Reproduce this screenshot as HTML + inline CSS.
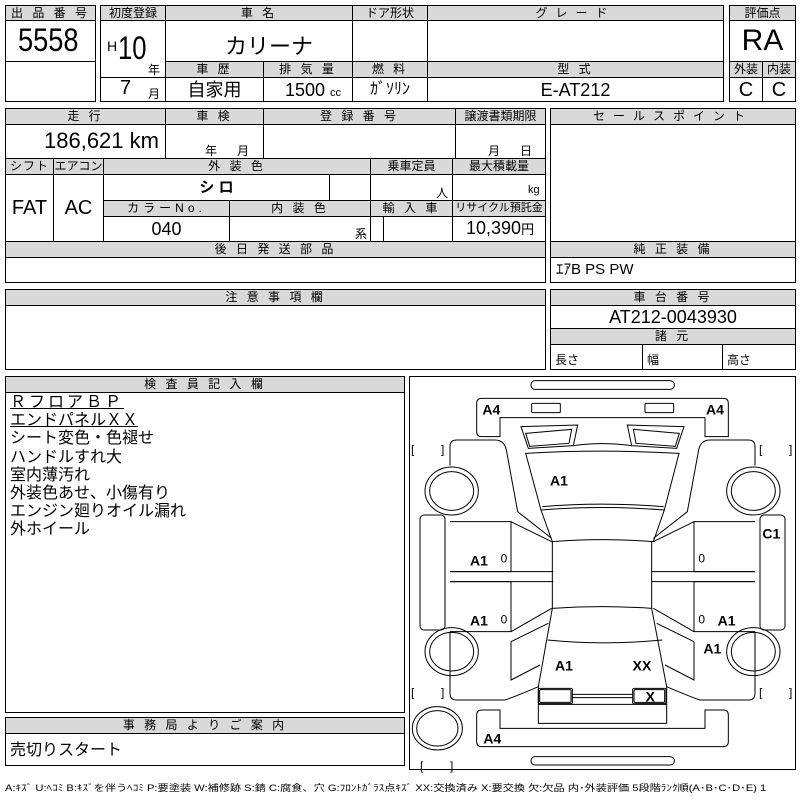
<!DOCTYPE html>
<html><head><meta charset="utf-8"><style>
body{margin:0;width:800px;height:800px;background:#fff;position:relative;overflow:hidden;font-family:"Liberation Sans","Noto Sans CJK JP",sans-serif;color:#000}
.c{position:absolute;border:1px solid #000;box-sizing:border-box;background:#fff;overflow:hidden}
.h{position:absolute;border:1px solid #000;box-sizing:border-box;background:#d9d9d9;font-size:12px;line-height:14px;text-align:center;letter-spacing:3px;white-space:nowrap;overflow:hidden}
.t{position:absolute;white-space:nowrap}
.big{font-family:"Liberation Sans Narrow","Liberation Sans","Noto Sans CJK JP",sans-serif}
.ins{position:absolute;left:10px;font-size:16px;line-height:18.3px;white-space:nowrap}
</style></head><body>
<!-- box1 -->
<div class="h" style="left:5px;top:5px;width:91px;height:16px">出 品 番 号</div>
<div class="c" style="left:5px;top:20px;width:91px;height:42px"></div>
<div class="c" style="left:5px;top:61px;width:91px;height:41px"></div>
<div class="t big" style="left:18px;top:22px;font-size:32px;transform:scaleX(0.85);transform-origin:left">5558</div>
<!-- box2 -->
<div class="h" style="left:100px;top:5px;width:66px;height:16px;letter-spacing:0">初度登録</div>
<div class="h" style="left:165px;top:5px;width:188px;height:16px">車 名</div>
<div class="h" style="left:352px;top:5px;width:76px;height:16px;letter-spacing:0">ドア形状</div>
<div class="h" style="left:427px;top:5px;width:297px;height:16px;letter-spacing:8px">グレード</div>
<div class="c" style="left:100px;top:20px;width:66px;height:58px"></div>
<div class="c" style="left:100px;top:77px;width:66px;height:25px"></div>
<div class="t" style="left:107px;top:38px;font-size:14px">H</div>
<div class="t big" style="left:118px;top:30px;font-size:32px;transform:scaleX(0.8);transform-origin:left">10</div>
<div class="t" style="left:148px;top:61px;font-size:12px">年</div>
<div class="t" style="left:120px;top:77px;font-size:20px">7</div>
<div class="t" style="left:148px;top:85px;font-size:12px">月</div>
<div class="c" style="left:165px;top:20px;width:188px;height:42px"></div>
<div class="t" style="left:225px;top:29px;font-size:22px">カリーナ</div>
<div class="c" style="left:352px;top:20px;width:76px;height:42px"></div>
<div class="c" style="left:427px;top:20px;width:297px;height:42px"></div>
<div class="h" style="left:165px;top:61px;width:99px;height:17px">車 歴</div>
<div class="h" style="left:263px;top:61px;width:90px;height:17px">排 気 量</div>
<div class="h" style="left:352px;top:61px;width:76px;height:17px">燃 料</div>
<div class="h" style="left:427px;top:61px;width:297px;height:17px">型 式</div>
<div class="c" style="left:165px;top:77px;width:99px;height:25px;font-size:18px;text-align:center;line-height:24px">自家用</div>
<div class="c" style="left:263px;top:77px;width:90px;height:25px;font-size:18px;line-height:24px;padding-left:21px">1500 <span style="font-size:11px">cc</span></div>
<div class="c" style="left:352px;top:77px;width:76px;height:25px;font-size:16px;text-align:center;line-height:24px">ｶﾞｿﾘﾝ</div>
<div class="c" style="left:427px;top:77px;width:297px;height:25px;font-size:18px;text-align:center;line-height:24px">E-AT212</div>
<!-- box3 -->
<div class="h" style="left:729px;top:5px;width:67px;height:16px;letter-spacing:0">評価点</div>
<div class="c" style="left:729px;top:20px;width:67px;height:42px;font-size:30px;text-align:center;line-height:40px">RA</div>
<div class="h" style="left:729px;top:61px;width:34px;height:17px;letter-spacing:0">外装</div>
<div class="h" style="left:762px;top:61px;width:34px;height:17px;letter-spacing:0">内装</div>
<div class="c" style="left:729px;top:77px;width:34px;height:25px;font-size:20px;text-align:center;line-height:24px">C</div>
<div class="c" style="left:762px;top:77px;width:34px;height:25px;font-size:20px;text-align:center;line-height:24px">C</div>
<!-- section2 -->
<div class="h" style="left:5px;top:108px;width:161px;height:17px">走 行</div>
<div class="h" style="left:165px;top:108px;width:99px;height:17px">車 検</div>
<div class="h" style="left:263px;top:108px;width:193px;height:17px">登 録 番 号</div>
<div class="h" style="left:455px;top:108px;width:91px;height:17px;letter-spacing:0">譲渡書類期限</div>
<div class="c" style="left:5px;top:124px;width:161px;height:35px"></div>
<div class="t" style="left:44px;top:128px;font-size:22px">186,621 km</div>
<div class="c" style="left:165px;top:124px;width:99px;height:35px"></div>
<div class="t" style="left:205px;top:142px;font-size:12px">年&nbsp;&nbsp;&nbsp;&nbsp;&nbsp;&nbsp;月</div>
<div class="c" style="left:263px;top:124px;width:193px;height:35px"></div>
<div class="c" style="left:455px;top:124px;width:91px;height:35px"></div>
<div class="t" style="left:488px;top:142px;font-size:12px">月&nbsp;&nbsp;&nbsp;&nbsp;&nbsp;&nbsp;日</div>
<div class="h" style="left:5px;top:158px;width:49px;height:17px;letter-spacing:1px">シフト</div>
<div class="h" style="left:53px;top:158px;width:51px;height:17px;letter-spacing:0">エアコン</div>
<div class="h" style="left:103px;top:158px;width:268px;height:17px">外 装 色</div>
<div class="h" style="left:370px;top:158px;width:83px;height:17px;letter-spacing:0">乗車定員</div>
<div class="h" style="left:452px;top:158px;width:94px;height:17px;letter-spacing:0">最大積載量</div>
<div class="c" style="left:5px;top:174px;width:49px;height:68px;font-size:20px;text-align:center;line-height:66px">FAT</div>
<div class="c" style="left:53px;top:174px;width:51px;height:68px;font-size:20px;text-align:center;line-height:66px">AC</div>
<div class="c" style="left:103px;top:174px;width:227px;height:27px;font-size:15px;text-align:center;line-height:25px;font-weight:bold">シ ロ</div>
<div class="c" style="left:329px;top:174px;width:42px;height:27px"></div>
<div class="c" style="left:370px;top:174px;width:83px;height:27px"></div>
<div class="t" style="left:436px;top:184px;font-size:12px">人</div>
<div class="c" style="left:452px;top:174px;width:94px;height:27px"></div>
<div class="t" style="left:528px;top:184px;font-size:11px">kg</div>
<div class="h" style="left:103px;top:200px;width:127px;height:17px;letter-spacing:4px">カラーNo.</div>
<div class="h" style="left:229px;top:200px;width:142px;height:17px">内 装 色</div>
<div class="h" style="left:370px;top:200px;width:83px;height:17px">輸 入 車</div>
<div class="h" style="left:452px;top:200px;width:94px;height:17px;letter-spacing:0;font-size:11px">リサイクル預託金</div>
<div class="c" style="left:103px;top:216px;width:127px;height:26px;font-size:18px;text-align:center;line-height:24px">040</div>
<div class="c" style="left:229px;top:216px;width:142px;height:26px"></div>
<div class="t" style="left:355px;top:225px;font-size:12px">系</div>
<div class="c" style="left:370px;top:216px;width:14px;height:26px"></div>
<div class="c" style="left:383px;top:216px;width:70px;height:26px"></div>
<div class="c" style="left:452px;top:216px;width:94px;height:26px"></div>
<div class="t" style="left:466px;top:218px;font-size:18px">10,390<span style="font-size:13px">円</span></div>
<div class="h" style="left:5px;top:241px;width:541px;height:17px">後 日 発 送 部 品</div>
<div class="c" style="left:5px;top:257px;width:541px;height:26px"></div>
<div class="h" style="left:550px;top:108px;width:246px;height:17px;letter-spacing:8px">セールスポイント</div>
<div class="c" style="left:550px;top:124px;width:246px;height:118px"></div>
<div class="h" style="left:550px;top:241px;width:246px;height:17px">純 正 装 備</div>
<div class="c" style="left:550px;top:257px;width:246px;height:26px;font-size:15px;line-height:24px;padding-left:5px">ｴｱB PS PW</div>
<!-- section3 -->
<div class="h" style="left:5px;top:289px;width:541px;height:17px">注 意 事 項 欄</div>
<div class="c" style="left:5px;top:305px;width:541px;height:65px"></div>
<div class="h" style="left:550px;top:289px;width:246px;height:17px">車 台 番 号</div>
<div class="c" style="left:550px;top:305px;width:246px;height:24px;font-size:18px;text-align:center;line-height:22px">AT212-0043930</div>
<div class="h" style="left:550px;top:328px;width:246px;height:17px">諸 元</div>
<div class="c" style="left:550px;top:344px;width:93px;height:26px;font-size:12px;line-height:30px;padding-left:4px">長さ</div>
<div class="c" style="left:642px;top:344px;width:81px;height:26px;font-size:12px;line-height:30px;padding-left:4px">幅</div>
<div class="c" style="left:722px;top:344px;width:74px;height:26px;font-size:12px;line-height:30px;padding-left:4px">高さ</div>
<!-- section4 -->
<div class="h" style="left:5px;top:376px;width:400px;height:17px">検 査 員 記 入 欄</div>
<div class="c" style="left:5px;top:392px;width:400px;height:321px"></div>
<div class="ins" style="top:394px;letter-spacing:3px;text-decoration:underline">ＲフロアＢＰ</div>
<div class="ins" style="top:412px;text-decoration:underline">エンドパネルＸＸ</div>
<div class="ins" style="top:430px">シート変色・色褪せ</div>
<div class="ins" style="top:449px">ハンドルすれ大</div>
<div class="ins" style="top:467px">室内薄汚れ</div>
<div class="ins" style="top:485px">外装色あせ、小傷有り</div>
<div class="ins" style="top:503px">エンジン廻りオイル漏れ</div>
<div class="ins" style="top:521px">外ホイール</div>
<div class="h" style="left:5px;top:717px;width:400px;height:17px">事 務 局 よ り ご 案 内</div>
<div class="c" style="left:5px;top:733px;width:400px;height:33px"></div>
<div class="t" style="left:10px;top:736px;font-size:16px">売切りスタート</div>
<!-- diagram -->
<div class="c" style="left:409px;top:376px;width:387px;height:394px"></div>
<svg style="position:absolute;left:405px;top:375px" width="395" height="400" viewBox="0 0 1185 1200">
<g fill="none" stroke="#000" stroke-width="3">
<rect x="378" y="17" width="430" height="26" rx="12"/>
<path d="M230 70 H955 Q970 70 970 85 V185 H900 V128 H285 V185 H230 Q215 185 215 170 V85 Q215 70 230 70Z"/>
<rect x="380" y="85" width="86" height="28" rx="3"/>
<rect x="720" y="85" width="86" height="28" rx="3"/>
<g id="half">
<path d="M348 155 L518 150 L505 212 L370 220 Z"/>
<path d="M362 175 L500 163 L492 205 L374 214 Z"/>
<path d="M135 272 V215 Q135 195 155 195 H270 Q300 195 305 230 L338 410 L440 490"/>
<path d="M135 440 H318 V590 H135"/><path d="M318 440 L440 500"/>
<path d="M135 590 H445 M135 620 H445"/>
<path d="M135 620 H318 V770 H135"/><path d="M318 770 L440 700"/>
<path d="M318 800 L430 745 M318 800 V915 L405 870"/>
<path d="M135 770 V955 Q135 975 155 975 H300 Q330 965 400 935"/>
<rect x="45" y="420" width="75" height="345" rx="12"/>
<ellipse cx="140" cy="348" rx="80" ry="72"/><ellipse cx="140" cy="348" rx="66" ry="58"/>
<ellipse cx="140" cy="830" rx="80" ry="72"/><ellipse cx="140" cy="830" rx="66" ry="58"/>
</g>
<use href="#half" transform="translate(1185,0) scale(-1,1)"/>
<path d="M505 212 Q590 200 680 212"/>
<path d="M362 235 Q590 222 822 235 L778 405 Q590 390 408 405 Z"/>
<path d="M412 395 Q590 380 776 395"/>
<path d="M408 405 L442 500 Q590 488 745 500 L778 405"/>
<path d="M442 500 V700 Q590 690 740 700 V500"/>
<path d="M442 700 L400 935 M740 700 L785 935"/>
<path d="M428 795 Q590 812 772 795"/>
<rect x="400" y="940" width="102" height="46" rx="4"/><rect x="404" y="944" width="94" height="38" rx="3"/>
<rect x="683" y="940" width="100" height="46" rx="4"/><rect x="687" y="944" width="92" height="38" rx="3"/>
<path d="M502 958 H683 M502 968 H683"/>
<path d="M400 935 V1045 H785 V935"/>
<path d="M400 988 H785"/>
<path d="M230 1005 H285 V1060 H900 V1005 H955 Q970 1005 970 1020 V1100 Q970 1115 955 1115 H230 Q215 1115 215 1100 V1020 Q215 1005 230 1005Z"/>
<rect x="378" y="1145" width="430" height="25" rx="12"/>
<ellipse cx="97" cy="1060" rx="75" ry="65"/><ellipse cx="97" cy="1060" rx="62" ry="53"/>
</g>
<g font-family="Liberation Sans, sans-serif" font-size="42" fill="#000" font-weight="bold">
<text x="232" y="118">A4</text><text x="903" y="118">A4</text>
<text x="435" y="332">A1</text>
<text x="195" y="572">A1</text><text x="195" y="752">A1</text>
<text x="938" y="752">A1</text><text x="895" y="835">A1</text>
<text x="1072" y="490">C1</text>
<text x="450" y="887">A1</text><text x="683" y="887">XX</text>
<text x="722" y="980">X</text>
<text x="235" y="1105">A4</text>
</g>
<g font-family="Liberation Sans, sans-serif" font-size="36" fill="#000">
<text x="287" y="562">0</text><text x="287" y="745">0</text>
<text x="880" y="562">0</text><text x="880" y="745">0</text>
<text x="18" y="235">[</text><text x="108" y="235">]</text>
<text x="1062" y="235">[</text><text x="1152" y="235">]</text>
<text x="18" y="965">[</text><text x="108" y="965">]</text>
<text x="1062" y="965">[</text><text x="1152" y="965">]</text>
<text x="45" y="1185">[</text><text x="135" y="1185">]</text>
</g>
</svg>
<div class="t" style="left:5px;top:781px;font-size:9px;letter-spacing:0;transform:scaleX(1.24);transform-origin:left">A:ｷｽﾞ U:ﾍｺﾐ B:ｷｽﾞを伴うﾍｺﾐ P:要塗装 W:補修跡 S:錆 C:腐食、穴 G:ﾌﾛﾝﾄｶﾞﾗｽ点ｷｽﾞ XX:交換済み X:要交換 欠:欠品 内･外装評価 5段階ﾗﾝｸ順(A･B･C･D･E) 1</div>
</body></html>
